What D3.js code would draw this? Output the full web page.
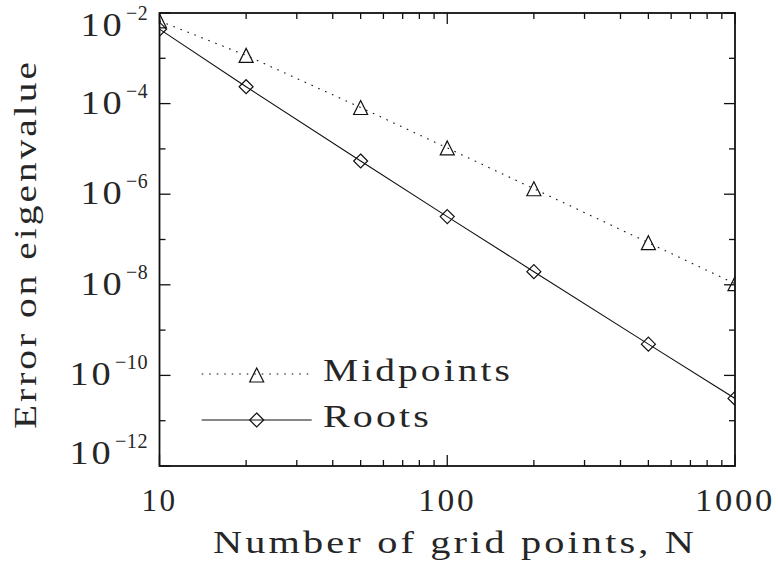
<!DOCTYPE html>
<html><head><meta charset="utf-8">
<script src="https://cdn.jsdelivr.net/npm/d3@7"></script>
<style>html,body{margin:0;padding:0;background:#fff}svg{display:block}</style>
</head><body><svg id="c" width="778" height="563"></svg>
<script>
const gridN = [10, 20, 50, 100, 200, 500, 1000];
const midpoints = [6.7e-3, 1.16e-3, 8.2e-5, 1.05e-5, 1.32e-6, 8.5e-8, 1.06e-8];
const roots = [4.4e-3, 2.36e-4, 5.4e-6, 3.2e-7, 1.95e-8, 4.9e-10, 3.1e-11];
const xMajorTicks = [10, 100, 1000];
const xTickLabels = ["10", "100", "1000"];
const xMinorTicks = [20,30,40,50,60,70,80,90,200,300,400,500,600,700,800,900];
const yMajorTicks = [1e-2, 1e-4, 1e-6, 1e-8, 1e-10, 1e-12];
const yTickExponents = ["\u22122", "\u22124", "\u22126", "\u22128", "\u221210", "\u221212"];
const yMinorTicks = [1e-3, 1e-5, 1e-7, 1e-9, 1e-11];
const seriesNames = ["Midpoints", "Roots"];
const xTitle = "Number of grid points, N";
const yTitle = "Error on eigenvalue";

const L = 159.5, R = 735, T = 13, B = 466;
const FONT = "'Liberation Serif', 'Times New Roman', serif";
const svg = d3.select("#c");
const x = d3.scaleLog().domain([10, 1000]).range([L, R]);
const y = d3.scaleLog().domain([1e-12, 1e-2]).range([B, T]);

svg.append("defs").append("clipPath").attr("id", "clip")
  .append("rect").attr("x", L).attr("y", T).attr("width", R - L).attr("height", B - T);

const ink = "#111";
const txt = "#262626";
const plot = svg.append("g").attr("clip-path", "url(#clip)");

const triPath = s => `M0,${-s}L${s},${s}L${-s},${s}Z`;
const diaPath = s => `M0,${-s}L${s},0L0,${s}L${-s},0Z`;
const MS = 7;

const line = d3.line().x((d, i) => x(gridN[i])).y(d => y(d));
plot.append("path").datum(midpoints).attr("d", line).attr("fill", "none")
  .attr("stroke", ink).attr("stroke-width", 1.1).attr("stroke-dasharray", "1.6,5.9");
plot.append("path").datum(roots).attr("d", line).attr("fill", "none")
  .attr("stroke", ink).attr("stroke-width", 1.1);

plot.selectAll(".tri").data(midpoints).join("path").attr("class", "tri")
  .attr("transform", (d, i) => `translate(${x(gridN[i])},${y(d)})`)
  .attr("d", triPath(MS)).attr("fill", "none").attr("stroke", ink).attr("stroke-width", 1.2);
plot.selectAll(".dia").data(roots).join("path").attr("class", "dia")
  .attr("transform", (d, i) => `translate(${x(gridN[i])},${y(d)})`)
  .attr("d", diaPath(MS)).attr("fill", "none").attr("stroke", ink).attr("stroke-width", 1.2);

// frame
svg.append("rect").attr("x", L).attr("y", T).attr("width", R - L).attr("height", B - T)
  .attr("fill", "none").attr("stroke", ink).attr("stroke-width", 1.8);

// ticks
const tk = svg.append("g").attr("stroke", ink).attr("stroke-width", 1.3);
const major = 11, minor = 6;
xMajorTicks.forEach(v => {
  tk.append("line").attr("x1", x(v)).attr("x2", x(v)).attr("y1", B).attr("y2", B - major);
  tk.append("line").attr("x1", x(v)).attr("x2", x(v)).attr("y1", T).attr("y2", T + major);
});
xMinorTicks.forEach(v => {
  tk.append("line").attr("x1", x(v)).attr("x2", x(v)).attr("y1", B).attr("y2", B - minor);
  tk.append("line").attr("x1", x(v)).attr("x2", x(v)).attr("y1", T).attr("y2", T + minor);
});
yMajorTicks.forEach(v => {
  tk.append("line").attr("x1", L).attr("x2", L + major).attr("y1", y(v)).attr("y2", y(v));
  tk.append("line").attr("x1", R).attr("x2", R - major).attr("y1", y(v)).attr("y2", y(v));
});
yMinorTicks.forEach(v => {
  tk.append("line").attr("x1", L).attr("x2", L + minor).attr("y1", y(v)).attr("y2", y(v));
  tk.append("line").attr("x1", R).attr("x2", R - minor).attr("y1", y(v)).attr("y2", y(v));
});

function styled(sel, size, w) {
  return sel.attr("font-family", FONT).attr("font-size", size).attr("fill", txt)
    .attr("letter-spacing", 2.5)
    .attr("textLength", w).attr("lengthAdjust", "spacingAndGlyphs");
}

// x tick labels
xMajorTicks.forEach((v, i) => {
  styled(svg.append("text").attr("x", x(v)).attr("y", 511).attr("text-anchor", "middle"),
    32, 22 * xTickLabels[i].length - 8).text(xTickLabels[i]);
});

// y tick labels
const labRight = 148;
yMajorTicks.forEach((v, i) => {
  const base = Math.max(36, Math.min(464, y(v) + 10));
  const sup = yTickExponents[i];
  const supW = 11 * sup.length;
  styled(svg.append("text").attr("x", labRight).attr("y", base - 16).attr("text-anchor", "end"),
    21, supW).attr("letter-spacing", 0.5).text(sup);
  styled(svg.append("text").attr("x", labRight - supW - 1.5).attr("y", base).attr("text-anchor", "end"),
    34, 44).text("10");
});

// axis titles
styled(svg.append("text").attr("x", (213 + 697) / 2).attr("y", 553).attr("text-anchor", "middle"),
  32, 484).text(xTitle);
styled(svg.append("text").attr("transform", "translate(36,244) rotate(-90)").attr("text-anchor", "middle"),
  32, 370).text(yTitle);

// legend
const lg = svg.append("g");
const legY = [374, 420], legX1 = 201.7, legX2 = 311.7, legM = 256.7;
lg.append("line").attr("x1", legX1).attr("x2", legX2).attr("y1", legY[0]).attr("y2", legY[0])
  .attr("stroke", ink).attr("stroke-width", 1.1).attr("stroke-dasharray", "1.6,5.9");
lg.append("path").attr("transform", `translate(${legM},${legY[0] + 1})`).attr("d", triPath(MS))
  .attr("fill", "none").attr("stroke", ink).attr("stroke-width", 1.2);
lg.append("line").attr("x1", legX1).attr("x2", legX2).attr("y1", legY[1]).attr("y2", legY[1])
  .attr("stroke", ink).attr("stroke-width", 1.1);
lg.append("path").attr("transform", `translate(${legM},${legY[1]})`).attr("d", diaPath(MS))
  .attr("fill", "none").attr("stroke", ink).attr("stroke-width", 1.2);
const legW = [190, 109];
seriesNames.forEach((nm, i) => {
  styled(lg.append("text").attr("x", 323).attr("y", legY[i] + 7), 32, legW[i]).text(nm);
});
</script></body></html>
